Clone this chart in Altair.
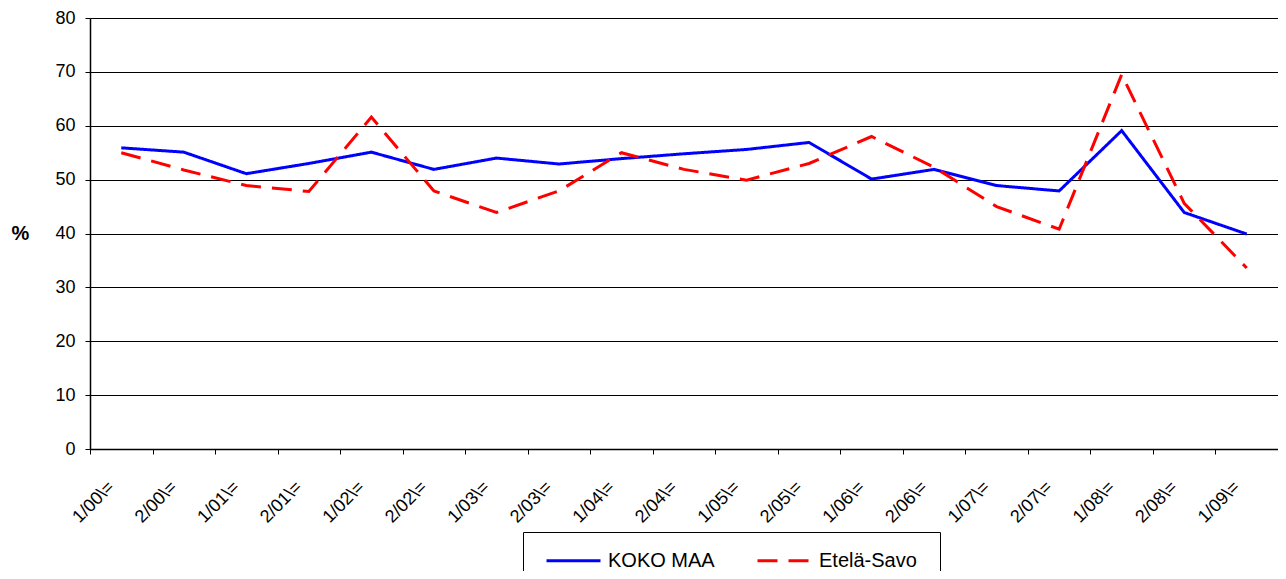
import altair as alt
import pandas as pd

categories = ["1/00\\=", "2/00\\=", "1/01\\=", "2/01\\=", "1/02\\=", "2/02\\=", "1/03\\=",
              "2/03\\=", "1/04\\=", "2/04\\=", "1/05\\=", "2/05\\=", "1/06\\=", "2/06\\=",
              "1/07\\=", "2/07\\=", "1/08\\=", "2/08\\=", "1/09\\="]
koko_maa = [55.9, 55.1, 51.1, 53.0, 55.1, 51.9, 54.0, 52.9, 53.9, 54.8, 55.6, 56.9,
            50.1, 51.9, 48.9, 47.9, 59.1, 43.9, 39.9]
etela_savo = [55.0, 51.8, 48.9, 47.8, 61.6, 47.9, 43.9, 47.9, 55.0, 51.9, 49.9, 53.0,
              58.0, 52.3, 45.0, 40.8, 69.5, 45.6, 33.6]
series_names = ["KOKO MAA", "Etelä-Savo"]

rows = []
for i, c in enumerate(categories):
    rows.append({"kausi": c, "sarja": series_names[0], "arvo": koko_maa[i], "o": 0})
    rows.append({"kausi": c, "sarja": series_names[1], "arvo": etela_savo[i], "o": 1})
df = pd.DataFrame(rows)

FONT = "Liberation Sans"
pad = "\u00a0" * 4 + "\u200b"

chart = alt.Chart(df).mark_line(strokeWidth=3).encode(
    x=alt.X("kausi:N", sort=categories, title=None,
            scale=alt.Scale(paddingInner=0, paddingOuter=0),
            axis=alt.Axis(labelAngle=-45, labelAlign="right", labelBaseline="middle",
                          labelPadding=30, labelOffset=-10, tickBand="extent",
                          tickSize=5, tickColor="#000000", domainColor="#000000",
                          domainWidth=1.5, labelFontSize=18, labelColor="#000000",
                          labelFont=FONT, grid=False)),
    y=alt.Y("arvo:Q", title="%",
            scale=alt.Scale(domain=[0, 80], nice=False),
            axis=alt.Axis(values=list(range(0, 81, 10)), tickSize=5, tickColor="#000000",
                          domainColor="#000000", domainWidth=1.5, labelPadding=10,
                          labelFontSize=18, labelColor="#000000", labelFont=FONT,
                          gridColor="#000000", gridWidth=1,
                          titleAngle=0, titleX=-70, titleY=215, titleAlign="center",
                          titleBaseline="middle", titleFontSize=20, titleFontWeight="bold",
                          titleFont=FONT, titleColor="#000000")),
    color=alt.Color("sarja:N", sort=series_names,
                    scale=alt.Scale(domain=series_names, range=["#0000FF", "#FF0000"]),
                    legend=alt.Legend(title=None, orient="none", direction="horizontal",
                                      legendX=433, legendY=514, strokeColor="#000000",
                                      padding=0, symbolType="stroke", symbolSize=2916,
                                      symbolStrokeWidth=3, symbolOffset=22,
                                      labelFontSize=20, labelFont=FONT, labelColor="#000000",
                                      labelOffset=6, columnPadding=19,
                                      labelExpr="datum.label == 'Etelä-Savo' ? datum.label + '" + pad + "' : datum.label")),
    strokeDash=alt.StrokeDash("sarja:N", sort=series_names,
                              scale=alt.Scale(domain=series_names, range=[[1, 0], [20, 11]]),
                              legend=None),
    order=alt.Order("o:Q"),
    detail="sarja:N",
).properties(
    width=1188, height=431,
    autosize=alt.AutoSizeParams(type="none"),
    padding={"left": 82, "top": 10, "right": 0, "bottom": 122},
).configure_view(stroke="#000000", strokeWidth=1.5).configure(background="#ffffff")

chart.save("out.html", embed_options={"renderer": "svg", "actions": False})
